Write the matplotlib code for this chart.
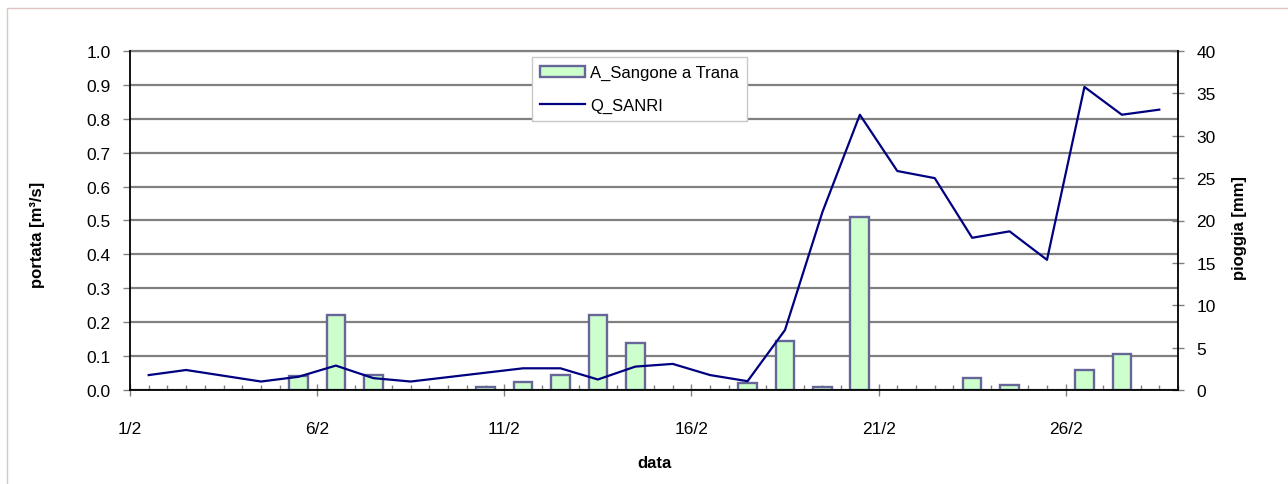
"""
Portata Q_SANRI e pioggia A_Sangone a Trana - febbraio
"""

import numpy as np
import matplotlib
matplotlib.use("Agg")
import matplotlib.pyplot as plt
from matplotlib.patches import Rectangle, Patch
from matplotlib.lines import Line2D
from matplotlib.ticker import MultipleLocator, FixedLocator, FixedFormatter

# --------------------------------
# Data (one value per day, 1/2 .. 28/2)
# --------------------------------
portata = [0.044, 0.059, 0.042, 0.025, 0.039, 0.072, 0.035, 0.025, 0.038, 0.051,
           0.064, 0.064, 0.031, 0.069, 0.077, 0.044, 0.026, 0.177, 0.525, 0.812,
           0.646, 0.625, 0.449, 0.468, 0.384, 0.894, 0.812, 0.827]

pioggia = [0.0, 0.0, 0.0, 0.0, 1.6, 8.8, 1.8, 0.0, 0.0, 0.4,
           1.0, 1.8, 8.8, 5.6, 0.0, 0.0, 0.8, 5.8, 0.4, 20.4,
           0.0, 0.0, 1.4, 0.6, 0.0, 2.4, 4.2, 0.0]

tick_labels = ["1/2", "6/2", "11/2", "16/2", "21/2", "26/2"]
tick_pos = [0, 5, 10, 15, 20, 25]

serie_barre = "A_Sangone a Trana"
serie_linea = "Q_SANRI"

# --------------------------------
# Style
# --------------------------------
W, H = 1288, 485
plt.rcParams["font.family"] = ["Liberation Sans", "DejaVu Sans"]
plt.rcParams["font.size"] = 12

BAR_FACE = "#ccffcc"
BAR_EDGE = "#666699"
LINE_COL = "#000080"
GRID_COL = "#808080"
TICK_FS = 12.5

fig = plt.figure(figsize=(W / 100, H / 100), dpi=100)
rect = [130 / W, 1 - 391 / H, 1048 / W, 339 / H]

# bottom layer: grid, left axis, x axis
ax = fig.add_axes(rect)
x = np.arange(len(portata)) + 0.5
ax.set_xlim(0, len(portata))
ax.set_ylim(0, 1.0)
ax.yaxis.set_major_locator(MultipleLocator(0.1))
ax.yaxis.set_major_formatter(plt.FormatStrFormatter("%.1f"))
ax.xaxis.set_major_locator(FixedLocator(tick_pos))
ax.xaxis.set_major_formatter(FixedFormatter(tick_labels))
ax.xaxis.set_minor_locator(MultipleLocator(0.5))
ax.grid(axis="y", color=GRID_COL, linewidth=1.6)
ax.set_axisbelow(True)
for s in ["left", "right", "bottom"]:
    ax.spines[s].set_visible(False)
ax.spines["top"].set_color(GRID_COL)
ax.spines["top"].set_linewidth(1.6)
ax.tick_params(axis="y", direction="out", length=5, width=1, color=GRID_COL,
               pad=9, labelsize=TICK_FS)
ax.tick_params(axis="x", which="major", direction="inout", length=8, width=1,
               color=GRID_COL, pad=18, labelsize=TICK_FS)
ax.tick_params(axis="x", which="minor", direction="in", length=3.5, width=1,
               color=GRID_COL)
ax.set_ylabel("portata [m³/s]", fontweight="bold")
ax.yaxis.set_label_coords(-0.081, 0.46)
ax.set_xlabel("data", fontweight="bold")
ax.xaxis.set_label_coords(0.5, -0.192)

# middle layer: rain bars on right axis
ax2 = ax.twinx()
ax2.set_ylim(0, 40)
ax2.yaxis.set_major_locator(MultipleLocator(5))
pg = np.array(pioggia)
mask = pg > 0
ax2.bar(x[mask], pg[mask], width=0.5, color=BAR_FACE, edgecolor=BAR_EDGE,
        linewidth=1.7)
for s in ax2.spines.values():
    s.set_visible(False)
ax2.tick_params(axis="y", direction="inout", length=8.5, width=1, color=GRID_COL,
                pad=9, labelsize=TICK_FS)
ax2.set_ylabel("pioggia [mm]", fontweight="bold", rotation=90)
ax2.yaxis.set_label_coords(1.052, 0.48)

# top layer: discharge line and black axis lines
ax3 = fig.add_axes(rect, sharex=ax, sharey=ax)
ax3.patch.set_visible(False)
ax3.plot(x, portata, color=LINE_COL, linewidth=1.6)
ax3.tick_params(left=False, bottom=False, labelleft=False, labelbottom=False,
                which="both")
ax3.spines["top"].set_visible(False)
for s in ["left", "right", "bottom"]:
    ax3.spines[s].set_color("black")
    ax3.spines[s].set_linewidth(1.3)

# legend
handles = [Patch(facecolor=BAR_FACE, edgecolor=BAR_EDGE, linewidth=1.7),
           Line2D([], [], color=LINE_COL, linewidth=1.6)]
leg = ax3.legend(handles, [serie_barre, serie_linea], loc="upper left",
                 bbox_to_anchor=(532 / W, 1 - 58 / H), bbox_transform=fig.transFigure,
                 borderaxespad=0, fancybox=False, framealpha=1, edgecolor="#c8c8c8",
                 handlelength=2.7, handletextpad=0.3, borderpad=0.5,
                 labelspacing=1.05, fontsize=12)
leg.get_frame().set_linewidth(1)

# outer border of the chart object
fig.patches.append(Rectangle((7 / W, -0.1), 1.2, 1 - 9 / H + 0.1,
                             transform=fig.transFigure, fill=False,
                             edgecolor="#e0c4c4", linewidth=1))

fig.savefig("out.png", dpi=100)
